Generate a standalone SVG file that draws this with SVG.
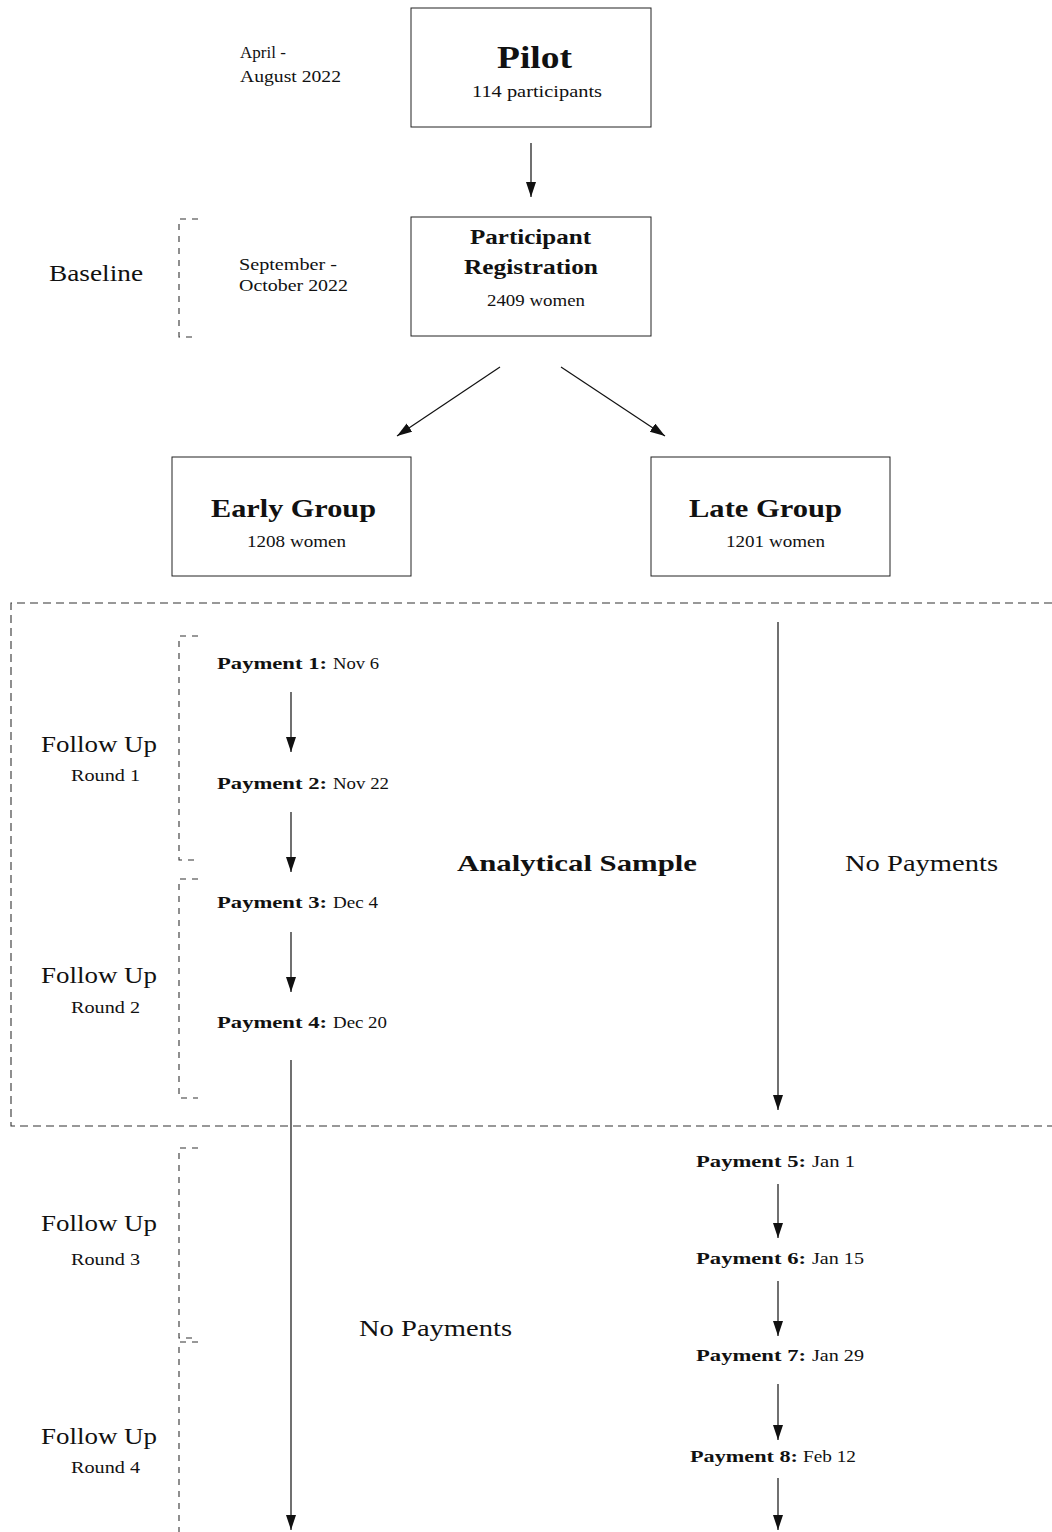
<svg xmlns="http://www.w3.org/2000/svg" width="1052" height="1532" viewBox="0 0 1052 1532">
<style>
text{font-family:"Liberation Serif","Times New Roman",serif;fill:#111}
.b{font-weight:bold}
.box{fill:#fff;stroke:#222;stroke-width:1}
.arr{stroke:#111;stroke-width:1.2;fill:none;marker-end:url(#ah)}
.dash{stroke:#333;stroke-width:1.1;fill:none;stroke-dasharray:8,5}
.brk{stroke:#333;stroke-width:1.1;fill:none;stroke-dasharray:6,6}
.s{font-size:17px}
.m{font-size:24px}
</style>
<defs>
<marker id="ah" markerUnits="userSpaceOnUse" markerWidth="16" markerHeight="12" refX="15" refY="5" orient="auto">
<path d="M0,0 L15,5 L0,10 z" fill="#111"/>
</marker>
</defs>

<g id="frame">
<path class="dash" d="M1052,603 H11 V1126 H1052"/>
</g>

<g id="brackets">
<path class="brk" d="M198,219 H179 V337 H198"/>
<path class="brk" d="M198,636 H179 V860 H198"/>
<path class="brk" d="M198,879 H179 V1098 H198"/>
<path class="brk" d="M198,1148 H179 V1338 H198"/>
<path class="brk" d="M198,1342 H179 V1532"/>
</g>

<g id="labels">
<text class="s" x="240" y="58">April -</text>
<text class="s" x="240" y="82" textLength="101" lengthAdjust="spacingAndGlyphs">August 2022</text>
<text class="s" x="239" y="270" textLength="98" lengthAdjust="spacingAndGlyphs">September -</text>
<text class="s" x="239" y="291" textLength="109" lengthAdjust="spacingAndGlyphs">October 2022</text>
<text class="m" x="49" y="281" textLength="94" lengthAdjust="spacingAndGlyphs">Baseline</text>
<text class="m" x="41" y="752" textLength="116" lengthAdjust="spacingAndGlyphs">Follow Up</text>
<text class="s" x="71" y="781" textLength="69" lengthAdjust="spacingAndGlyphs">Round 1</text>
<text class="m" x="41" y="983" textLength="116" lengthAdjust="spacingAndGlyphs">Follow Up</text>
<text class="s" x="71" y="1013" textLength="69" lengthAdjust="spacingAndGlyphs">Round 2</text>
<text class="m" x="41" y="1231" textLength="116" lengthAdjust="spacingAndGlyphs">Follow Up</text>
<text class="s" x="71" y="1265" textLength="69" lengthAdjust="spacingAndGlyphs">Round 3</text>
<text class="m" x="41" y="1444" textLength="116" lengthAdjust="spacingAndGlyphs">Follow Up</text>
<text class="s" x="71" y="1473" textLength="69" lengthAdjust="spacingAndGlyphs">Round 4</text>
<text class="m b" x="457" y="871" textLength="240" lengthAdjust="spacingAndGlyphs">Analytical Sample</text>
<text class="m" x="845" y="871" textLength="153" lengthAdjust="spacingAndGlyphs">No Payments</text>
<text class="m" x="359" y="1336" textLength="153" lengthAdjust="spacingAndGlyphs">No Payments</text>
</g>

<g id="pilot">
<rect class="box" x="411" y="8" width="240" height="119"/>
<text class="b" x="497" y="68" font-size="31" textLength="75" lengthAdjust="spacingAndGlyphs">Pilot</text>
<text class="s" x="472" y="97" textLength="130" lengthAdjust="spacingAndGlyphs">114 participants</text>
</g>

<g id="registration">
<rect class="box" x="411" y="217" width="240" height="119"/>
<text class="b" x="470" y="244" font-size="20" textLength="121" lengthAdjust="spacingAndGlyphs">Participant</text>
<text class="b" x="464" y="274" font-size="20" textLength="134" lengthAdjust="spacingAndGlyphs">Registration</text>
<text class="s" x="487" y="306" textLength="98" lengthAdjust="spacingAndGlyphs">2409 women</text>
</g>

<g id="early">
<rect class="box" x="172" y="457" width="239" height="119"/>
<text class="b" x="211" y="517" font-size="26" textLength="165" lengthAdjust="spacingAndGlyphs">Early Group</text>
<text class="s" x="247" y="547" textLength="99" lengthAdjust="spacingAndGlyphs">1208 women</text>
</g>

<g id="late">
<rect class="box" x="651" y="457" width="239" height="119"/>
<text class="b" x="689" y="517" font-size="26" textLength="153" lengthAdjust="spacingAndGlyphs">Late Group</text>
<text class="s" x="726" y="547" textLength="99" lengthAdjust="spacingAndGlyphs">1201 women</text>
</g>

<g id="payment1">
<text class="s b" x="217" y="669" textLength="110" lengthAdjust="spacingAndGlyphs">Payment 1:</text>
<text class="s" x="333" y="669" textLength="46" lengthAdjust="spacingAndGlyphs">Nov 6</text>
</g>
<g id="payment2">
<text class="s b" x="217" y="789" textLength="110" lengthAdjust="spacingAndGlyphs">Payment 2:</text>
<text class="s" x="333" y="789" textLength="56" lengthAdjust="spacingAndGlyphs">Nov 22</text>
</g>
<g id="payment3">
<text class="s b" x="217" y="908" textLength="110" lengthAdjust="spacingAndGlyphs">Payment 3:</text>
<text class="s" x="333" y="908" textLength="45" lengthAdjust="spacingAndGlyphs">Dec 4</text>
</g>
<g id="payment4">
<text class="s b" x="217" y="1028" textLength="110" lengthAdjust="spacingAndGlyphs">Payment 4:</text>
<text class="s" x="333" y="1028" textLength="54" lengthAdjust="spacingAndGlyphs">Dec 20</text>
</g>
<g id="payment5">
<text class="s b" x="696" y="1167" textLength="110" lengthAdjust="spacingAndGlyphs">Payment 5:</text>
<text class="s" x="812" y="1167" textLength="43" lengthAdjust="spacingAndGlyphs">Jan 1</text>
</g>
<g id="payment6">
<text class="s b" x="696" y="1264" textLength="110" lengthAdjust="spacingAndGlyphs">Payment 6:</text>
<text class="s" x="812" y="1264" textLength="52" lengthAdjust="spacingAndGlyphs">Jan 15</text>
</g>
<g id="payment7">
<text class="s b" x="696" y="1361" textLength="110" lengthAdjust="spacingAndGlyphs">Payment 7:</text>
<text class="s" x="812" y="1361" textLength="52" lengthAdjust="spacingAndGlyphs">Jan 29</text>
</g>
<g id="payment8">
<text class="s b" x="690" y="1462" textLength="108" lengthAdjust="spacingAndGlyphs">Payment 8:</text>
<text class="s" x="803" y="1462" textLength="53" lengthAdjust="spacingAndGlyphs">Feb 12</text>
</g>

<g id="connectors">
<line class="arr" x1="531" y1="143" x2="531" y2="197"/>
<line class="arr" x1="500" y1="367" x2="397" y2="436"/>
<line class="arr" x1="561" y1="367" x2="665" y2="436"/>
<line class="arr" x1="778" y1="622" x2="778" y2="1110"/>
<line class="arr" x1="291" y1="692" x2="291" y2="752"/>
<line class="arr" x1="291" y1="812" x2="291" y2="872"/>
<line class="arr" x1="291" y1="932" x2="291" y2="992"/>
<line class="arr" x1="291" y1="1060" x2="291" y2="1530"/>
<line class="arr" x1="778" y1="1184" x2="778" y2="1238"/>
<line class="arr" x1="778" y1="1281" x2="778" y2="1336"/>
<line class="arr" x1="778" y1="1384" x2="778" y2="1440"/>
<line class="arr" x1="778" y1="1478" x2="778" y2="1530"/>
</g>
</svg>
